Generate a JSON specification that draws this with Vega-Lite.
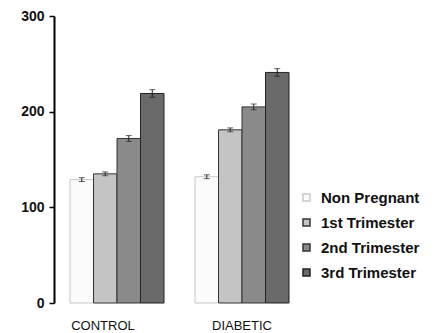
{
  "$schema": "https://vega.github.io/schema/vega-lite/v6.json",
  "width": 251,
  "height": 287,
  "autosize": {"type": "none"},
  "padding": {"left": 54, "top": 16, "right": 129, "bottom": 30},
  "background": "white",
  "data": {
    "values": [
      {"group": "CONTROL", "stage": "Non Pregnant", "value": 129, "err": 2},
      {"group": "CONTROL", "stage": "1st Trimester", "value": 135, "err": 2},
      {"group": "CONTROL", "stage": "2nd Trimester", "value": 172, "err": 3},
      {"group": "CONTROL", "stage": "3rd Trimester", "value": 219, "err": 4},
      {"group": "DIABETIC", "stage": "Non Pregnant", "value": 132, "err": 2},
      {"group": "DIABETIC", "stage": "1st Trimester", "value": 181, "err": 2},
      {"group": "DIABETIC", "stage": "2nd Trimester", "value": 205, "err": 3},
      {"group": "DIABETIC", "stage": "3rd Trimester", "value": 241, "err": 4}
    ]
  },
  "encoding": {
    "x": {
      "field": "group", "type": "nominal", "sort": ["CONTROL", "DIABETIC"],
      "scale": {"paddingInner": 0.248, "paddingOuter": 0.128},
      "axis": {"title": null, "domain": false, "ticks": false, "labelAngle": 0, "labelPadding": 16, "labelFontSize": 13, "labelColor": "#111", "labelFont": "Liberation Sans",
        "labelOffset": {"condition": {"test": "datum.value === 'CONTROL'", "value": -14}, "value": 0}}
    },
    "xOffset": {
      "field": "stage", "type": "nominal",
      "sort": ["Non Pregnant", "1st Trimester", "2nd Trimester", "3rd Trimester"],
      "scale": {"paddingInner": 0, "paddingOuter": 0}
    },
    "y": {
      "field": "value", "type": "quantitative",
      "scale": {"domain": [0, 300], "nice": false},
      "axis": {"title": null, "grid": false, "values": [0, 100, 200, 300], "domainWidth": 2, "domainColor": "#000", "tickColor": "#000", "tickWidth": 1.5, "tickSize": 5, "labelFontSize": 14, "labelFontWeight": "bold", "labelPadding": 5, "labelColor": "#111", "labelFont": "Liberation Sans"}
    }
  },
  "layer": [
    {
      "mark": {"type": "bar", "strokeWidth": 1},
      "encoding": {
        "fill": {
          "field": "stage", "type": "nominal",
          "sort": ["Non Pregnant", "1st Trimester", "2nd Trimester", "3rd Trimester"],
          "scale": {"domain": ["Non Pregnant", "1st Trimester", "2nd Trimester", "3rd Trimester"], "range": ["#fbfbfb", "#c4c4c4", "#8a8a8a", "#6a6a6a"]},
          "legend": {"title": null, "orient": "none", "legendX": 245, "legendY": 174, "symbolType": "square", "symbolSize": 49, "labelFontSize": 15, "labelFontWeight": "bold", "labelFont": "Liberation Sans", "labelColor": "#111", "rowPadding": 9, "labelOffset": 7, "padding": 0}
        },
        "stroke": {
          "field": "stage", "type": "nominal",
          "sort": ["Non Pregnant", "1st Trimester", "2nd Trimester", "3rd Trimester"],
          "scale": {"domain": ["Non Pregnant", "1st Trimester", "2nd Trimester", "3rd Trimester"], "range": ["#c8c8c8", "#333333", "#333333", "#222222"]},
          "legend": {"title": null, "orient": "none", "legendX": 245, "legendY": 174, "symbolType": "square", "symbolSize": 49, "labelFontSize": 15, "labelFontWeight": "bold", "labelFont": "Liberation Sans", "labelColor": "#111", "rowPadding": 9, "labelOffset": 7, "padding": 0}
        }
      }
    },
    {
      "mark": {"type": "errorbar", "ticks": {"size": 6, "color": "#222"}, "rule": {"color": "#222"}},
      "encoding": {
        "yError": {"field": "err"}
      }
    }
  ],
  "config": {"view": {"stroke": null}}
}
